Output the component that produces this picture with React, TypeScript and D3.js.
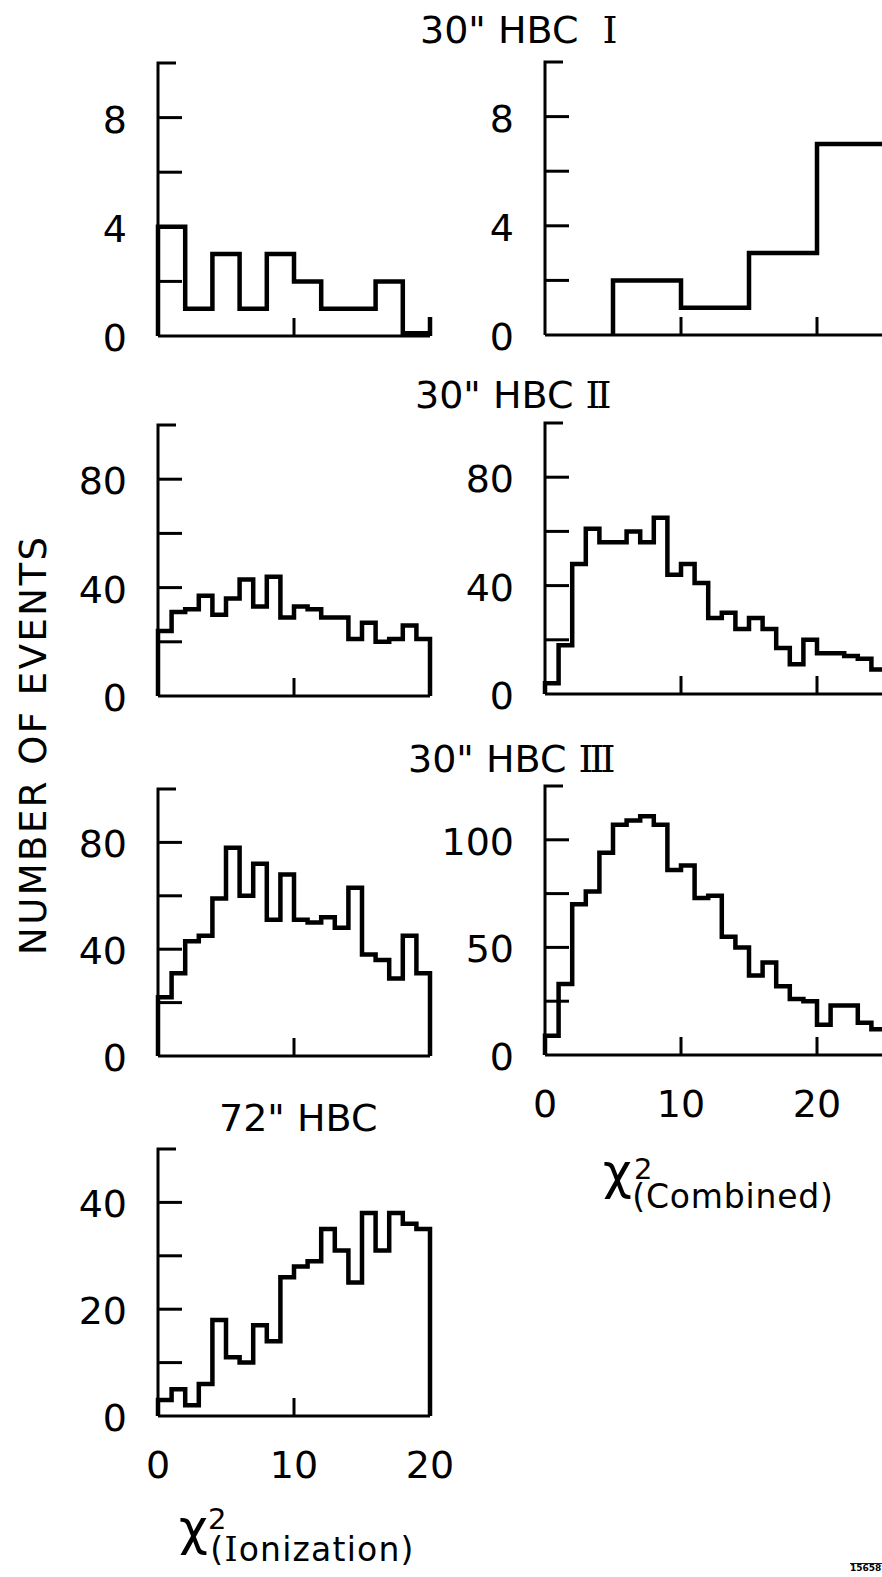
import React from "react";
import * as d3 from "d3";

// bin contents (events per bin), chi^2 bins start at 0
const hbc1Ionization = [4, 1, 3, 1, 3, 2, 1, 1, 2, 0.1];
const hbc1IonizationEdge = 0.7;
const hbc1Combined = [0, 2, 1, 3, 7];

const hbc2Ionization = [24, 31, 32, 37, 30, 36, 43, 33, 44, 29, 33, 32, 29, 29, 21, 27, 20, 21, 26, 21];
const hbc2Combined = [4, 18, 48, 61, 56, 56, 60, 56, 65, 44, 48, 41, 28, 30, 24, 28, 24, 17, 11, 20, 15, 15, 14, 13, 9];

const hbc3Ionization = [22, 31, 43, 45, 59, 78, 60, 72, 51, 68, 51, 50, 52, 48, 63, 38, 36, 29, 45, 31];
const hbc3Combined = [9, 33, 70, 76, 94, 107, 109, 111, 107, 86, 88, 73, 74, 55, 50, 37, 43, 32, 26, 25, 14, 23, 23, 15, 12];

const hbc72Ionization = [3, 5, 2, 6, 18, 11, 10, 17, 14, 26, 28, 29, 35, 31, 25, 38, 31, 38, 36, 35];

const yLabels10 = [0, 4, 8];
const yLabels100 = [0, 40, 80];
const yLabels125 = [0, 50, 100];
const yLabels50 = [0, 20, 40];
const xTickLabels = [0, 10, 20];

const FONT = "'DejaVu Sans', sans-serif";
const SERIF = "'DejaVu Serif', serif";

interface PanelProps {
  values: number[];
  binWidth: number;
  left: number;
  right: boolean;
  top: number;
  bottom: number;
  yMax: number;
  tickStep: number;
  labels: number[];
  close: boolean;
  closeTop?: number;
  xLabels?: number[];
}

const Panel: React.FC<PanelProps> = (p) => {
  const x = d3.scaleLinear().domain([0, 20]).range([p.left, p.left + 272]);
  const y = d3.scaleLinear().domain([0, p.yMax]).range([p.bottom, p.top]);
  const x0 = x(0);
  const axisEnd = p.right ? 890 : x(20);

  // skip empty leading bins so the step starts where the first entry is
  let first = 0;
  while (first < p.values.length && p.values[first] === 0) first++;
  const pts: [number, number][] = [[first * p.binWidth, 0]];
  p.values.forEach((v, i) => {
    if (i >= first) pts.push([i * p.binWidth, v]);
  });
  const n = p.values.length * p.binWidth;
  pts.push([n, p.values[p.values.length - 1]]);
  if (p.close) {
    if (p.closeTop !== undefined) pts.push([n, p.closeTop]);
    pts.push([n, 0]);
  }
  const line = d3
    .line<[number, number]>()
    .x((d) => x(d[0]))
    .y((d) => y(d[1]))
    .curve(d3.curveStepAfter);

  const ticks = d3.range(p.tickStep, p.yMax, p.tickStep);
  const xTicks = p.right ? [10, 20] : [10];

  return (
    <g>
      <path
        d={`M${x0},${p.bottom}V${p.top}H${x0 + 18}M${x0},${p.bottom}H${axisEnd}`}
        fill="none"
        stroke="#000"
        strokeWidth={3}
      />
      {ticks.map((t) => (
        <line key={t} x1={x0} x2={x0 + 24} y1={y(t)} y2={y(t)} stroke="#000" strokeWidth={3} />
      ))}
      {xTicks.map((t) => (
        <line key={t} x1={x(t)} x2={x(t)} y1={p.bottom} y2={p.bottom - 18} stroke="#000" strokeWidth={3} />
      ))}
      {p.labels.map((t) => (
        <text
          key={t}
          x={x0 - 31}
          y={y(t) + 2}
          textAnchor="end"
          dominantBaseline="central"
          fontSize={38}
          fontFamily={FONT}
        >
          {t}
        </text>
      ))}
      {(p.xLabels || []).map((t) => (
        <text key={t} x={x(t)} y={p.bottom + 62} textAnchor="middle" fontSize={38} fontFamily={FONT}>
          {t}
        </text>
      ))}
      <path d={line(pts) || ""} fill="none" stroke="#000" strokeWidth={4.5} strokeLinejoin="miter" />
    </g>
  );
};

const Title: React.FC<{ x: number; y: number; lead: string; num: string }> = ({ x, y, lead, num }) => (
  <text x={x} y={y} fontSize={38} fontFamily={FONT}>
    <tspan>{lead}</tspan>
    <tspan fontFamily={SERIF} letterSpacing={-4}>{num}</tspan>
  </text>
);

export default function App() {
  return (
    <svg
      width={882}
      height={1577}
      style={{ position: "absolute", left: 0, top: 0, background: "#fff" }}
    >
      <rect width={882} height={1577} fill="#fff" />

      <Title x={420} y={43} lead={'30" HBC\u00a0\u00a0'} num="I" />
      <Title x={415} y={408} lead={'30" HBC '} num="II" />
      <Title x={408} y={772} lead={'30" HBC '} num="III" />
      <Title x={219} y={1131} lead={'72" HBC'} num="" />

      <Panel values={hbc1Ionization} binWidth={2} left={158} right={false} top={63} bottom={336}
        yMax={10} tickStep={2} labels={yLabels10} close closeTop={hbc1IonizationEdge} />
      <Panel values={hbc1Combined} binWidth={5} left={545} right top={62} bottom={335}
        yMax={10} tickStep={2} labels={yLabels10} close={false} />

      <Panel values={hbc2Ionization} binWidth={1} left={158} right={false} top={425} bottom={696}
        yMax={100} tickStep={20} labels={yLabels100} close />
      <Panel values={hbc2Combined} binWidth={1} left={545} right top={423} bottom={694}
        yMax={100} tickStep={20} labels={yLabels100} close={false} />

      <Panel values={hbc3Ionization} binWidth={1} left={158} right={false} top={789} bottom={1056}
        yMax={100} tickStep={20} labels={yLabels100} close />
      <Panel values={hbc3Combined} binWidth={1} left={545} right top={786} bottom={1055}
        yMax={125} tickStep={25} labels={yLabels125} close={false} xLabels={xTickLabels} />

      <Panel values={hbc72Ionization} binWidth={1} left={158} right={false} top={1149} bottom={1416}
        yMax={50} tickStep={10} labels={yLabels50} close xLabels={xTickLabels} />

      <text
        transform="translate(46,746) rotate(-90)"
        textAnchor="middle"
        fontSize={37}
        fontFamily={FONT}
        textLength={418}
        lengthAdjust="spacing"
      >
        NUMBER OF EVENTS
      </text>

      <text x={603} y={1189} fontFamily={FONT}>
        <tspan fontSize={50}>χ</tspan>
        <tspan fontSize={29} dx={2} dy={-10}>2</tspan>
        <tspan fontSize={33} dx={-20} dy={29} letterSpacing={0.8}>(Combined)</tspan>
      </text>

      <text x={179} y={1545} fontFamily={FONT}>
        <tspan fontSize={50}>χ</tspan>
        <tspan fontSize={29} dx={0} dy={-16}>2</tspan>
        <tspan fontSize={33} dx={-16} dy={32} letterSpacing={1.2}>(</tspan>
        <tspan fontSize={33} fontFamily={SERIF} letterSpacing={1.2}>I</tspan>
        <tspan fontSize={33} letterSpacing={1.2}>onization)</tspan>
      </text>

      <text x={850} y={1571} fontSize={9} fontWeight="bold" fontFamily={FONT} textDecoration="overline">
        156581
      </text>
    </svg>
  );
}
